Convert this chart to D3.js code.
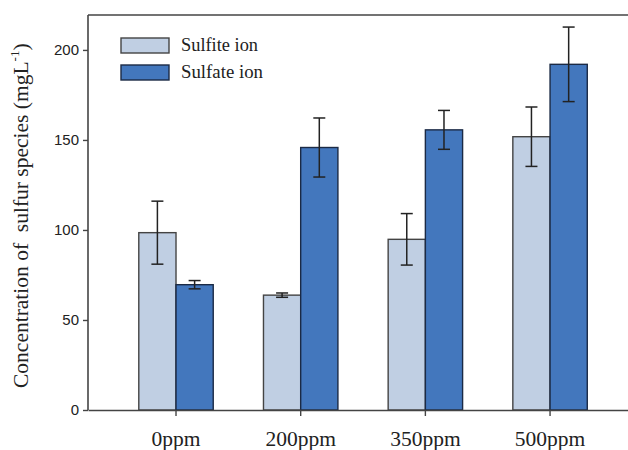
<!DOCTYPE html>
<html>
<head>
<meta charset="utf-8">
<script src="https://cdn.jsdelivr.net/npm/d3@7"></script>
<style>
  body { margin: 0; background: #fff; }
  svg { display: block; }
</style>
</head>
<body>
<svg id="chart" width="628" height="450"></svg>
<script>
// data
const categories = ["0ppm", "200ppm", "350ppm", "500ppm"];
const seriesNames = ["Sulfite ion", "Sulfate ion"];
const sulfite = [98.5, 63.8, 94.8, 151.8];
const sulfiteErr = [17.5, 1.2, 14.3, 16.5];
const sulfate = [69.6, 145.8, 155.6, 192.0];
const sulfateErr = [2.3, 16.4, 10.8, 20.7];
const yTicks = [0, 50, 100, 150, 200];

const fills = ["#c0cfe3", "#4377bd"];
const strokes = ["#444", "#1b2a45"];
const serif = "Liberation Serif, Times New Roman, serif";

const svg = d3.select("#chart");
const pLeft = 88, pRight = 628, pTop = 15, pBottom = 410;

const y = d3.scaleLinear().domain([0, 219.4]).range([pBottom, pTop]);
const x = d3.scaleBand().domain(categories).range([pLeft, pRight])
  .paddingInner(0.403).paddingOuter(0.367).align(0.555);
const xs = d3.scaleBand().domain(seriesNames).range([0, x.bandwidth()]);

const rows = categories.map((c, i) => ({
  cat: c,
  vals: [
    { s: 0, v: sulfite[i], e: sulfiteErr[i] },
    { s: 1, v: sulfate[i], e: sulfateErr[i] }
  ]
}));

// frame line at top
svg.append("line")
  .attr("x1", pLeft).attr("x2", pRight).attr("y1", pTop).attr("y2", pTop)
  .attr("stroke", "#444").attr("stroke-width", 1.6);

// bars
const g = svg.append("g").selectAll("g").data(rows).join("g")
  .attr("transform", d => `translate(${x(d.cat)},0)`);

g.selectAll("rect").data(d => d.vals).join("rect")
  .attr("x", d => xs(seriesNames[d.s]))
  .attr("width", xs.bandwidth())
  .attr("y", d => y(d.v))
  .attr("height", d => y(0) - y(d.v))
  .attr("fill", d => fills[d.s])
  .attr("stroke", d => strokes[d.s])
  .attr("stroke-width", 1.4);

// error bars
const eb = g.selectAll("g.err").data(d => d.vals).join("g").attr("class", "err")
  .attr("transform", d => `translate(${xs(seriesNames[d.s]) + xs.bandwidth() / 2},0)`)
  .attr("stroke", "#222").attr("stroke-width", 1.5);
eb.append("line").attr("y1", d => y(d.v + d.e)).attr("y2", d => y(d.v - d.e));
eb.append("line").attr("x1", -6).attr("x2", 6).attr("y1", d => y(d.v + d.e)).attr("y2", d => y(d.v + d.e));
eb.append("line").attr("x1", -6).attr("x2", 6).attr("y1", d => y(d.v - d.e)).attr("y2", d => y(d.v - d.e));

// y axis
const yAxis = svg.append("g").attr("transform", `translate(${pLeft},0)`)
  .call(d3.axisLeft(y).tickValues(yTicks).tickSize(5).tickPadding(4).tickSizeOuter(0));
yAxis.select(".domain").attr("d", `M0,${pBottom}V${pTop}`).attr("stroke", "#444").attr("stroke-width", 1.6);
yAxis.selectAll(".tick line").attr("stroke", "#444").attr("stroke-width", 1.4);
yAxis.selectAll("text").attr("font-family", "Liberation Sans, Arial, sans-serif")
  .attr("font-size", 15).attr("fill", "#222");

// x axis
const xAxis = svg.append("g").attr("transform", `translate(0,${pBottom})`)
  .call(d3.axisBottom(x).tickSize(6).tickSizeOuter(0));
xAxis.select(".domain").attr("stroke", "#444").attr("stroke-width", 1.6);
xAxis.selectAll(".tick line").attr("stroke", "#444").attr("stroke-width", 1.4);
xAxis.selectAll("text").attr("y", 36).attr("dy", null)
  .attr("font-family", serif).attr("font-size", 21.5).attr("fill", "#222");

// y label
const yl = svg.append("text")
  .attr("transform", "translate(28,388) rotate(-90)")
  .attr("text-anchor", "start")
  .attr("font-family", serif)
  .attr("font-size", 21.5).attr("fill", "#222");
yl.append("tspan").text("Concentration of \u00a0sulfur species (mgL");
yl.append("tspan").attr("font-size", 13).attr("dy", -9).text("-1");
yl.append("tspan").attr("dy", 9).text(")");

// legend
const legendW = [77, 82];
const lg = svg.append("g").selectAll("g").data(seriesNames).join("g")
  .attr("transform", (d, i) => `translate(121,${38 + i * 27})`);
lg.append("rect").attr("width", 48).attr("height", 15)
  .attr("fill", (d, i) => fills[i]).attr("stroke", (d, i) => strokes[i]).attr("stroke-width", 1.4);
lg.append("text").attr("x", 60).attr("y", 13).text(d => d)
  .attr("textLength", (d, i) => legendW[i]).attr("lengthAdjust", "spacingAndGlyphs")
  .attr("font-family", serif)
  .attr("font-size", 19).attr("fill", "#222");
</script>
</body>
</html>
